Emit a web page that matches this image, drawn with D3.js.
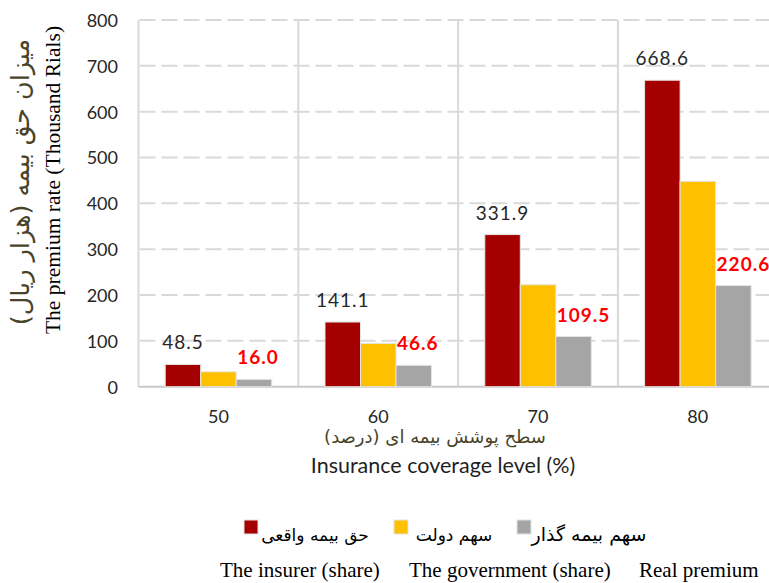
<!DOCTYPE html>
<html>
<head>
<meta charset="utf-8">
<script src="https://cdn.jsdelivr.net/npm/d3@7"></script>
<style>
  html, body { margin: 0; padding: 0; background: #ffffff; }
  svg { display: block; }
</style>
</head>
<body>
<svg id="chart" width="769" height="583"></svg>
<script>
// ---- Data ----
const categories = ["50", "60", "70", "80"];
const realPremium = [48.5, 141.1, 331.9, 668.6];        // red
const governmentShare = [32.5, 94.5, 222.4, 448.0];     // yellow
const insuredShare = [16.0, 46.6, 109.5, 220.6];        // gray
const yTicks = [0, 100, 200, 300, 400, 500, 600, 700, 800];
const seriesKeys = ["real", "gov", "insured"];
const seriesColors = ["#A50000", "#FFC000", "#A5A5A5"];

const svg = d3.select("#chart");
const plot = { left: 138.5, right: 777.7, top: 20, bottom: 386.7 };

const x = d3.scaleBand().domain(categories).range([plot.left, plot.right]).padding(0);
const x1 = d3.scaleBand().domain(seriesKeys).range([26.7, 133.2]).padding(0);
const y = d3.scaleLinear().domain([0, 800]).range([plot.bottom, plot.top]);

const numFont = "Lato, 'Open Sans', sans-serif";
const persianFont = "'DejaVu Sans', sans-serif";
const olive = "#494429";

// Horizontal dashed gridlines
svg.append("g").selectAll("line")
  .data(yTicks.filter(d => d > 0))
  .join("line")
  .attr("x1", plot.left).attr("x2", plot.right)
  .attr("y1", d => y(d)).attr("y2", d => y(d))
  .attr("stroke", "#d9d9d9").attr("stroke-width", 2)
  .attr("stroke-dasharray", "16,6").attr("stroke-dashoffset", -1);

// Vertical category boundaries (incl. left axis line)
const bounds = categories.map(c => x(c)).concat([x(categories[categories.length - 1]) + x.bandwidth()]);
svg.append("g").selectAll("line")
  .data(bounds)
  .join("line")
  .attr("x1", d => d).attr("x2", d => d)
  .attr("y1", plot.top).attr("y2", plot.bottom)
  .attr("stroke", "#d9d9d9").attr("stroke-width", 2);

// Bottom axis line
svg.append("line")
  .attr("x1", plot.left).attr("x2", plot.right)
  .attr("y1", y(0)).attr("y2", y(0))
  .attr("stroke", "#c8c8c8").attr("stroke-width", 2);

// Bars
const rows = categories.map((c, i) => ({
  cat: c,
  values: [
    { key: "real", v: realPremium[i] },
    { key: "gov", v: governmentShare[i] },
    { key: "insured", v: insuredShare[i] }
  ]
}));
const colorOf = d3.scaleOrdinal().domain(seriesKeys).range(seriesColors);

const groups = svg.append("g").selectAll("g")
  .data(rows).join("g")
  .attr("transform", d => `translate(${x(d.cat)},0)`);

groups.selectAll("rect")
  .data(d => d.values)
  .join("rect")
  .attr("x", d => x1(d.key))
  .attr("width", x1.bandwidth())
  .attr("y", d => y(d.v))
  .attr("height", d => y(0) - y(d.v))
  .attr("fill", d => colorOf(d.key))
  .attr("stroke", "#e3e3e3").attr("stroke-width", 1);

// Data labels: real premium (dark, centered above red bar)
groups.append("text")
  .attr("x", x1("real") + x1.bandwidth() / 2)
  .attr("y", (d, i) => y(realPremium[i]) - 15)
  .attr("text-anchor", "middle")
  .attr("font-family", numFont).attr("font-size", 19)
  .attr("letter-spacing", 1)
  .attr("fill", "#262626")
  .text((d, i) => realPremium[i].toFixed(1));

// Data labels: insured share (red bold, above gray bar)
groups.append("text")
  .attr("x", x1("insured") + 1)
  .attr("y", (d, i) => y(insuredShare[i]) - 15)
  .attr("text-anchor", "start")
  .attr("font-family", numFont).attr("font-size", 19)
  .attr("font-weight", "bold").attr("letter-spacing", 1)
  .attr("fill", "#FF0000")
  .text((d, i) => insuredShare[i].toFixed(1));

// Y tick labels
const yAxis = d3.axisLeft(y).tickValues(yTicks).tickSize(0).tickPadding(0).tickFormat(d3.format("d"));
const yg = svg.append("g").attr("transform", `translate(118,0)`).call(yAxis);
yg.select(".domain").remove();
yg.selectAll("text")
  .attr("font-family", numFont).attr("font-size", 18)
  .attr("fill", "#262626").attr("dy", "0.36em");

// X tick labels
const xAxis = d3.axisBottom(x).tickSize(0).tickPadding(0);
const xg = svg.append("g").attr("transform", `translate(0,410)`).call(xAxis);
xg.select(".domain").remove();
xg.selectAll("text")
  .attr("font-family", numFont).attr("font-size", 18)
  .attr("fill", "#262626").attr("dy", "0.72em");

// X axis titles
svg.append("text")
  .attr("x", 435).attr("y", 443)
  .attr("text-anchor", "middle")
  .attr("font-family", persianFont).attr("font-size", 18)
  .attr("fill", olive)
  .text("سطح پوشش بیمه ای (درصد)");
svg.append("text")
  .attr("x", 443).attr("y", 473)
  .attr("text-anchor", "middle")
  .attr("font-family", numFont).attr("font-size", 21.5)
  .attr("fill", "#1f1f1f")
  .text("Insurance coverage level (%)");

// Y axis titles
svg.append("text")
  .attr("transform", "translate(29,182) rotate(-90)")
  .attr("text-anchor", "middle")
  .attr("font-family", persianFont).attr("font-size", 25.5)
  .attr("fill", olive)
  .text("میزان حق بیمه (هزار ریال)");
svg.append("text")
  .attr("transform", "translate(60,180) rotate(-90)")
  .attr("text-anchor", "middle")
  .attr("font-family", "'Liberation Serif', 'Times New Roman', serif").attr("font-size", 21.5)
  .attr("fill", "#000000")
  .text("The premium rate (Thousand Rials)");

// Legend (Persian)
const legendPersian = ["حق بیمه واقعی", "سهم دولت", "سهم بیمه گذار"];
const legendSquareX = [244, 394, 517];
const legendTextCx = [315, 454, 589];
const legendFontSize = [17, 17, 19];
const lg = svg.append("g");
lg.selectAll("rect")
  .data(seriesKeys).join("rect")
  .attr("x", (d, i) => legendSquareX[i]).attr("y", 520)
  .attr("width", 14).attr("height", 14)
  .attr("fill", d => colorOf(d))
  .attr("stroke", "#e3e3e3").attr("stroke-width", 1);
lg.selectAll("text")
  .data(legendPersian).join("text")
  .attr("x", (d, i) => legendTextCx[i]).attr("y", 541)
  .attr("text-anchor", "middle")
  .attr("font-family", persianFont).attr("font-size", (d, i) => legendFontSize[i])
  .attr("fill", "#000000")
  .text(d => d);

// Legend (English)
const legendEnglish = ["The insurer (share)", "The government (share)", "Real premium"];
const legendEnglishX = [220, 409, 639];
svg.append("g").selectAll("text")
  .data(legendEnglish).join("text")
  .attr("x", (d, i) => legendEnglishX[i]).attr("y", 577)
  .attr("font-family", "'Liberation Serif', 'Times New Roman', serif").attr("font-size", 21)
  .attr("fill", "#000000")
  .text(d => d);
</script>
</body>
</html>
